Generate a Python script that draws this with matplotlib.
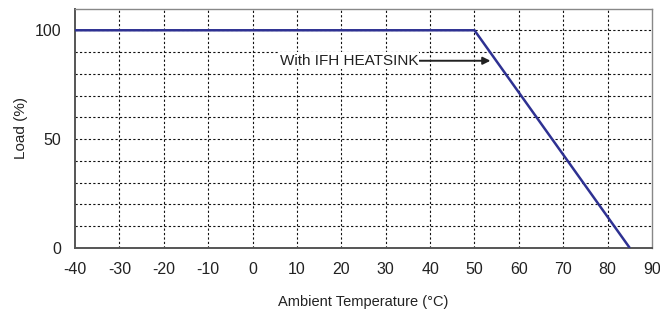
import matplotlib.pyplot as plt
import numpy as np

plt.rcParams["font.family"] = ["Liberation Sans", "DejaVu Sans"]
plt.rcParams["axes.unicode_minus"] = False

# derating curve
temp = [-40, 50, 85]
load = [100, 100, 0]

x_ticks = list(range(-40, 91, 10))
y_ticks = [0, 50, 100]
y_grid = list(range(10, 110, 10))

fig = plt.figure(figsize=(6.6, 3.15), dpi=100)
ax = fig.add_axes([75 / 660, 1 - 248 / 315, 577 / 660, 239.5 / 315])

ax.plot(temp, load, color="#2e3192", lw=1.8, solid_capstyle="butt", zorder=3)

for x in x_ticks[1:-1]:
    ax.axvline(x, color="#111111", lw=0.8, ls=(0, (2, 2)), zorder=1)
for y in y_grid:
    ax.axhline(y, color="#111111", lw=0.8, ls=(0, (2, 2)), zorder=1)

ax.set_xlim(-40, 90)
ax.set_ylim(0, 110)
ax.set_xticks(x_ticks)
ax.set_yticks(y_ticks)
ax.tick_params(length=0, labelsize=11.5, colors="#222222")
ax.tick_params(axis="x", pad=10)
ax.tick_params(axis="y", pad=10)

for side in ["top", "right"]:
    ax.spines[side].set_color("#888888")
    ax.spines[side].set_linewidth(1.0)
for side in ["left", "bottom"]:
    ax.spines[side].set_color("#555555")
    ax.spines[side].set_linewidth(1.4)

ax.set_xlabel("Ambient Temperature (°C)", fontsize=10.5, labelpad=13, color="#222222")
ax.set_ylabel("Load (%)", fontsize=11, labelpad=5, color="#222222")

ax.annotate("", xy=(53.6, 86.0), xytext=(37.6, 86.0),
            arrowprops=dict(arrowstyle="-|>", color="#222222", lw=1.4,
                            mutation_scale=11, shrinkA=0, shrinkB=0), zorder=4)
ax.text(37.3, 86.0, "With IFH HEATSINK", fontsize=11, ha="right", va="center",
        color="#222222", zorder=4,
        bbox=dict(facecolor="white", edgecolor="none", pad=1.0))

fig.savefig("out.png", dpi=100)
